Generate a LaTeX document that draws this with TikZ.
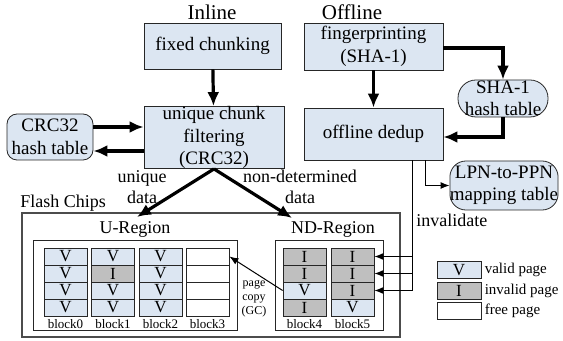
\documentclass[tikz,border=0pt]{standalone}
\usepackage{fontspec}
\setmainfont{Liberation Serif}
\newfontfamily\figfont{Liberation Serif}
\usepackage{xcolor}
\usetikzlibrary{arrows.meta}
\definecolor{boxblue}{HTML}{DCE6F2}
\definecolor{invgray}{HTML}{BFBFBF}
\tikzset{
  procbox/.style={draw=black!85, fill=boxblue, align=center, inner sep=0pt, font=\figfont\fontsize{9.5}{11.2}\selectfont},
  tablebox/.style={procbox, rounded corners=5pt},
  lbl/.style={align=center, inner sep=0pt, font=\figfont\fontsize{9}{10.5}\selectfont},
  bigarrow/.style={line width=1.6pt, -{Latex[length=7pt,width=6pt]}},
  thinarrow/.style={line width=0.5pt, -{Latex[length=4.5pt,width=3.5pt]}},
  pagebox/.style={draw=black!85, minimum width=21.5pt, minimum height=8.5pt, inner sep=0pt, font=\figfont\fontsize{8.5}{9}\selectfont},
  vpage/.style={pagebox, fill=boxblue},
  ipage/.style={pagebox, fill=invgray},
  fpage/.style={pagebox, fill=white},
}
\begin{document}
\begin{tikzpicture}[x=0.5pt,y=-0.5pt]
\useasboundingbox (0,0) rectangle (563,341);
\node[lbl, font=\figfont\fontsize{10.5}{12}\selectfont] (inline) at (212,12) {Inline};
\node[lbl, font=\figfont\fontsize{10.5}{12}\selectfont] (offline) at (352,12) {Offline};
\node[procbox, minimum width=68.5pt, minimum height=23pt] (fixed) at (212.5,46) {fixed chunking};
\node[procbox, minimum width=70pt, minimum height=30.5pt] (unique) at (214,137.5) {unique chunk\\filtering\\(CRC32)};
\node[tablebox, minimum width=43pt, minimum height=23pt] (crc) at (50,137) {CRC32\\hash table};
\node[procbox, minimum width=69.5pt, minimum height=23.5pt] (finger) at (373.5,46.5) {fingerprinting\\(SHA-1)};
\node[procbox, minimum width=69.5pt, minimum height=26pt] (dedup) at (373.5,134) {offline dedup};
\node[tablebox, rounded corners=9pt, minimum width=45pt, minimum height=18.5pt] (sha) at (503,98.5) {SHA-1\\hash table};
\node[tablebox, rounded corners=8pt, minimum width=54pt, minimum height=24.5pt] (lpn) at (504,185.5) {LPN-to-PPN\\mapping table};
\draw[bigarrow] (fixed) -- (unique);
\draw[bigarrow] (crc.east |- 0,127) -- (unique.west |- 0,127);
\draw[bigarrow] (unique.west |- 0,151) -- (crc.east |- 0,151);
\draw[bigarrow] (finger) -- (dedup);
\draw[bigarrow] (finger.east |- 0,48) -| (sha.north);
\draw[bigarrow] (sha.south) |- (dedup.east |- 0,137);
\draw[draw=black!70, line width=0.6pt] (22,213) rectangle (400,337);
\draw[draw=black!85, line width=0.5pt] (33,241) rectangle (237,331);
\draw[draw=black!85, line width=0.5pt] (275,241) rectangle (383,331);
\node[lbl, anchor=west] (flash) at (20,203) {Flash Chips};
\node[lbl] (uregion) at (135,229) {U-Region};
\node[lbl] (ndregion) at (333,229) {ND-Region};
\node[lbl] (udata) at (142,187) {unique\\data};
\node[lbl] (nddata) at (300,187) {non-determined\\data};
\node[lbl, anchor=west] (inval) at (416,220) {invalidate};
\coordinate (uin) at (137,217);
\coordinate (ndin) at (292,218);
\draw[bigarrow] (unique.south) -- (uin);
\draw[bigarrow] (unique.south) -- (ndin);
\foreach \b/\x/\states in {0/65.5/{v/V,v/V,v/V,v/V},1/113/{v/V,i/I,v/V,v/V},2/160.5/{v/V,v/V,v/V,v/V},3/207.5/{f/{},f/{},f/{},f/{}},4/304.5/{i/I,i/I,v/V,i/I},5/352.5/{i/I,i/I,i/I,v/V}}{
\foreach \s/\t [count=\r] in \states{
\node[\s page] (b\b r\r) at (\x,{239.5+17*\r}) {\t};
}
\node[lbl, font=\figfont\fontsize{6.5}{7}\selectfont] (blk\b) at (\x,324) {block\b};
}
\node[lbl, font=\figfont\fontsize{6}{7}\selectfont] (gc) at (254,299) {page\\copy\\(GC)};
\draw[thinarrow] (b4r3.west) -- (b3r1.east);
\coordinate (inv) at (412,0);
\draw[thinarrow] (dedup.south -| inv) |- (b5r3.east);
\draw[thinarrow] (b5r1.east -| inv) -- (b5r1.east);
\draw[thinarrow] (b5r2.east -| inv) -- (b5r2.east);
\draw[thinarrow] (dedup.south -| 425,0) |- (lpn.west);
\foreach \s/\t/\n [count=\r] in {v/V/valid page,i/I/invalid page,f/{}/free page}{
\node[\s page, minimum width=22pt] (key\r) at (459,{249.5+20.5*\r}) {\t};
\node[lbl, anchor=west, font=\figfont\fontsize{7.5}{9}\selectfont] at ([xshift=1.5pt]key\r.east) {\n};
}
\end{tikzpicture}
\end{document}
